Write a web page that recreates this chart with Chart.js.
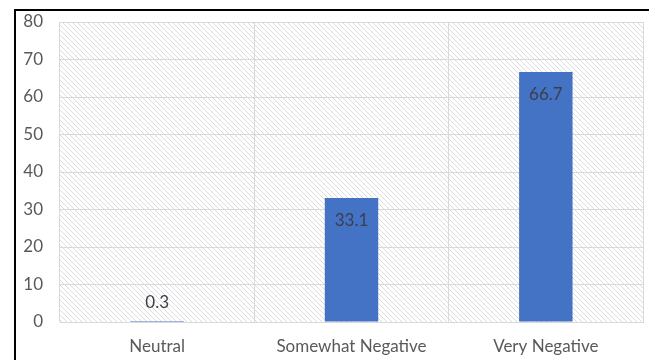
<!DOCTYPE html>
<html>
<head>
<meta charset="utf-8">
<script src="https://cdn.jsdelivr.net/npm/chart.js@4/dist/chart.umd.min.js"></script>
<style>
  html, body { margin: 0; padding: 0; background: #fff; }
  #wrap { position: relative; width: 649px; height: 360px; }
</style>
</head>
<body>
<div id="wrap"><canvas id="c" width="649" height="360"></canvas></div>
<script>
const categories = ['Neutral', 'Somewhat Negative', 'Very Negative'];
const sentimentShare = [0.3, 33.1, 66.7];
const yTicks = [0, 10, 20, 30, 40, 50, 60, 70, 80];

const FONT = 'Lato, "Open Sans", sans-serif';

// Light diagonal hatch used as the plot-area fill
function makeHatch(ctx) {
  const c = document.createElement('canvas');
  c.width = 5; c.height = 5;
  const g = c.getContext('2d');
  g.fillStyle = '#ffffff';
  g.fillRect(0, 0, 5, 5);
  g.strokeStyle = '#dcdcdc';
  g.lineWidth = 1;
  g.beginPath();
  g.moveTo(-1, -1); g.lineTo(6, 6);
  g.moveTo(-1, 4); g.lineTo(1, 6);
  g.moveTo(4, -1); g.lineTo(6, 1);
  g.stroke();
  return ctx.createPattern(c, 'repeat');
}

const plotBackground = {
  id: 'plotBackground',
  beforeDraw(chart) {
    const { ctx, chartArea: a } = chart;
    ctx.save();
    ctx.fillStyle = makeHatch(ctx);
    ctx.fillRect(a.left, a.top, a.right - a.left, a.bottom - a.top);
    // frame lines on the top and left of the figure
    ctx.strokeStyle = '#000';
    ctx.lineWidth = 2;
    ctx.beginPath();
    ctx.moveTo(15, 360); ctx.lineTo(15, 10); ctx.lineTo(649, 10);
    ctx.stroke();
    ctx.restore();
  }
};

// Value labels placed just inside the top of each bar (above it when the bar is too short)
const valueLabels = {
  id: 'valueLabels',
  afterDatasetsDraw(chart) {
    const { ctx } = chart;
    const meta = chart.getDatasetMeta(0);
    ctx.save();
    ctx.font = '17px ' + FONT;
    ctx.fillStyle = '#3b3f4a';
    ctx.textAlign = 'center';
    ctx.textBaseline = 'middle';
    meta.data.forEach((bar, i) => {
      const v = chart.data.datasets[0].data[i];
      const h = bar.base - bar.y;
      const y = h > 40 ? bar.y + 23 : bar.y - 18;
      ctx.fillText(v.toFixed(1), bar.x, y);
    });
    ctx.restore();
  }
};

new Chart(document.getElementById('c'), {
  type: 'bar',
  data: {
    labels: categories,
    datasets: [{
      data: sentimentShare,
      backgroundColor: '#4472c4',
      borderWidth: 0,
      barPercentage: 0.55,
      categoryPercentage: 0.5
    }]
  },
  options: {
    responsive: false,
    animation: false,
    devicePixelRatio: 1,
    layout: { padding: { left: 14, top: 22, right: 6, bottom: 0 } },
    plugins: { legend: { display: false }, tooltip: { enabled: false } },
    scales: {
      x: {
        grid: { color: '#d9d9d9', lineWidth: 1, drawTicks: false, offset: true },
        border: { display: true, color: '#d9d9d9' },
        ticks: { color: '#595959', font: { family: FONT, size: 17 }, padding: 14, maxRotation: 0 },
        afterFit(s) { s.height = 38; s.paddingLeft = 0; s.paddingRight = 0; }
      },
      y: {
        min: 0, max: 80,
        afterBuildTicks(s) { s.ticks = yTicks.map(v => ({ value: v })); },
        grid: { color: '#d9d9d9', lineWidth: 1, drawTicks: false },
        border: { display: false },
        ticks: { color: '#595959', font: { family: FONT, size: 17 }, padding: 17 },
        afterFit(s) { s.width = 46; s.paddingTop = 0; s.paddingBottom = 0; }
      }
    }
  },
  plugins: [plotBackground, valueLabels]
});
</script>
</body>
</html>
